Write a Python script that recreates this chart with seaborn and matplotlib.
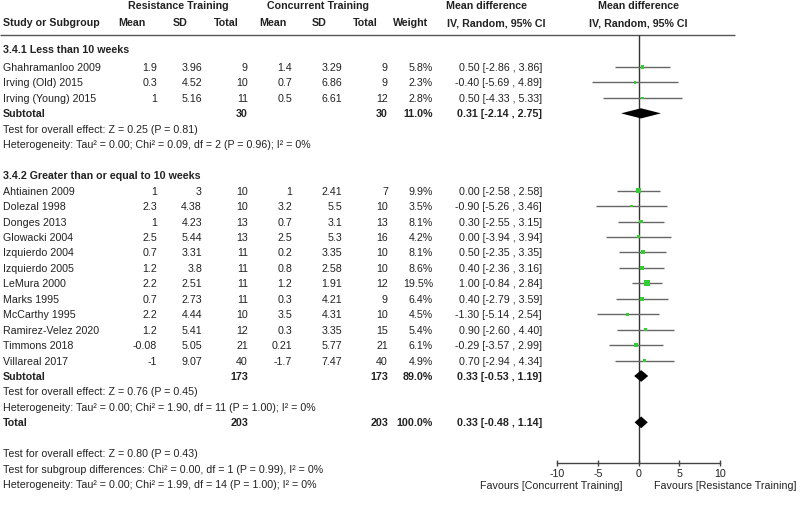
import matplotlib
matplotlib.use("Agg")
import matplotlib.pyplot as plt
import seaborn as sns
import pandas as pd

# study level data
studies = ['Ghahramanloo 2009', 'Irving (Old) 2015', 'Irving (Young) 2015',
           'Ahtiainen 2009', 'Dolezal 1998', 'Donges 2013', 'Glowacki 2004',
           'Izquierdo 2004', 'Izquierdo 2005', 'LeMura 2000', 'Marks 1995',
           'McCarthy 1995', 'Ramirez-Velez 2020', 'Timmons 2018', 'Villareal 2017']
group = [1, 1, 1] + [2] * 12
rt_mean = [1.9, 0.3, 1, 1, 2.3, 1, 2.5, 0.7, 1.2, 2.2, 0.7, 2.2, 1.2, -0.08, -1]
rt_sd = [3.96, 4.52, 5.16, 3, 4.38, 4.23, 5.44, 3.31, 3.8, 2.51, 2.73, 4.44, 5.41, 5.05, 9.07]
rt_n = [9, 10, 11, 10, 10, 13, 13, 11, 11, 11, 11, 10, 12, 21, 40]
ct_mean = [1.4, 0.7, 0.5, 1, 3.2, 0.7, 2.5, 0.2, 0.8, 1.2, 0.3, 3.5, 0.3, 0.21, -1.7]
ct_sd = [3.29, 6.86, 6.61, 2.41, 5.5, 3.1, 5.3, 3.35, 2.58, 1.91, 4.21, 4.31, 3.35, 5.77, 7.47]
ct_n = [9, 9, 12, 7, 10, 13, 16, 10, 10, 12, 9, 10, 15, 21, 40]
weight = [5.8, 2.3, 2.8, 9.9, 3.5, 8.1, 4.2, 8.1, 8.6, 19.5, 6.4, 4.5, 5.4, 6.1, 4.9]
md = [0.50, -0.40, 0.50, 0.00, -0.90, 0.30, 0.00, 0.50, 0.40, 1.00, 0.40, -1.30, 0.90, -0.29, 0.70]
ci_lo = [-2.86, -5.69, -4.33, -2.58, -5.26, -2.55, -3.94, -2.35, -2.36, -0.84, -2.79, -5.14, -2.60, -3.57, -2.94]
ci_hi = [3.86, 4.89, 5.33, 2.58, 3.46, 3.15, 3.94, 3.35, 3.16, 2.84, 3.59, 2.54, 4.40, 2.99, 4.34]

# pooled estimates (subtotal 1, subtotal 2, total)
pooled_label = ['Subtotal', 'Subtotal', 'Total']
pooled_n_rt = [30, 173, 203]
pooled_n_ct = [30, 173, 203]
pooled_weight = [11.0, 89.0, 100.0]
pooled_md = [0.31, 0.33, 0.33]
pooled_lo = [-2.14, -0.53, -0.48]
pooled_hi = [2.75, 1.19, 1.14]

group_titles = ['3.4.1 Less than 10 weeks', '3.4.2 Greater than or equal to 10 weeks']
group_stats = [
    ['Test for overall effect: Z = 0.25 (P = 0.81)',
     'Heterogeneity: Tau² = 0.00; Chi² = 0.09, df = 2 (P = 0.96); I² = 0%'],
    ['Test for overall effect: Z = 0.76 (P = 0.45)',
     'Heterogeneity: Tau² = 0.00; Chi² = 1.90, df = 11 (P = 1.00); I² = 0%'],
]
overall_stats = ['Test for overall effect: Z = 0.80 (P = 0.43)',
                 'Test for subgroup differences: Chi² = 0.00, df = 1 (P = 0.99), I² = 0%',
                 'Heterogeneity: Tau² = 0.00; Chi² = 1.99, df = 14 (P = 1.00); I² = 0%']
x_ticks = [-10, -5, 0, 5, 10]

sns.set_theme(style='white')
plt.rcParams['font.family'] = ['Liberation Sans', 'DejaVu Sans']
plt.rcParams['axes.unicode_minus'] = False
FS = 7.7
GREY = '#555555'

# row layout: one row = 15.45 px, row 0 = first study at y=68 px
ROW_PX = 15.45
TOP = -68 / ROW_PX
BOTTOM = (510 - 68) / ROW_PX

study_rows = []
title_rows = []
pooled_rows = []
stat_rows = []
r = 0
for g in (1, 2):
    title_rows.append(r - 1.15 if g == 1 else r)
    if g == 2:
        r += 1
    for i, gg in enumerate(group):
        if gg == g:
            study_rows.append(r)
            r += 1
    pooled_rows.append(r)
    stat_rows.append([r + 1, r + 2])
    r += 4
pooled_rows.append(r - 1)
overall_rows = [r + 1, r + 2, r + 3]
header_line = (36 - 68) / ROW_PX
axis_row = (464 - 68) / ROW_PX

fig = plt.figure(figsize=(8, 5.1), dpi=100)
tx = fig.add_axes([0, 0, 1, 1])
tx.set_xlim(0, 800)
tx.set_ylim(BOTTOM, TOP)
tx.axis('off')

ax = fig.add_axes([557 / 800, 0, (720 - 557) / 800, 1])
ax.set_xlim(-10, 10)
ax.set_ylim(BOTTOM, TOP)
ax.patch.set_visible(False)


def put(x, y, s, ha='right', bold=False):
    tx.text(x, y, s, ha=ha, va='center', fontsize=FS,
            fontweight='bold' if bold else 'normal', color='#222222')


# header
h1 = (6 - 68) / ROW_PX
h2 = (23 - 68) / ROW_PX
put(178, h1, 'Resistance Training', ha='center', bold=True)
put(318, h1, 'Concurrent Training', ha='center', bold=True)
put(487, h1, 'Mean difference', ha='center', bold=True)
put(638, h1, 'Mean difference', ha='center', bold=True)
put(3, h2, 'Study or Subgroup', ha='left', bold=True)
for xc, lab in [(132, 'Mean'), (180, 'SD'), (226, 'Total'),
                (273, 'Mean'), (319, 'SD'), (365, 'Total'), (411, 'Weight')]:
    put(xc, h2, lab, ha='center', bold=True)
put(496, h2, 'IV, Random, 95% CI', ha='center', bold=True)
put(638, h2, 'IV, Random, 95% CI', ha='center', bold=True)
tx.hlines(header_line, 0, 735, color=GREY, lw=1)

# study rows
cols = [157, 202, 248, 292, 342, 388]
for i, y in enumerate(study_rows):
    put(3, y, studies[i], ha='left')
    vals = [rt_mean[i], rt_sd[i], rt_n[i], ct_mean[i], ct_sd[i], ct_n[i]]
    for xc, v in zip(cols, vals):
        put(xc, y, format(v, 'g'))
    put(433, y, f'{weight[i]:.1f}%')
    put(542, y, f'{md[i]:.2f} [{ci_lo[i]:.2f} , {ci_hi[i]:.2f}]')

for k, y in enumerate(title_rows):
    put(3, y, group_titles[k], ha='left', bold=True)

for k, y in enumerate(pooled_rows):
    put(3, y, pooled_label[k], ha='left', bold=True)
    put(248, y, str(pooled_n_rt[k]), bold=True)
    put(388, y, str(pooled_n_ct[k]), bold=True)
    put(433, y, f'{pooled_weight[k]:.1f}%', bold=True)
    put(542, y, f'{pooled_md[k]:.2f} [{pooled_lo[k]:.2f} , {pooled_hi[k]:.2f}]', bold=True)

for k, rows in enumerate(stat_rows):
    for y, s in zip(rows, group_stats[k]):
        put(3, y, s, ha='left')
for y, s in zip(overall_rows, overall_stats):
    put(3, y, s, ha='left')

# forest panel
ax.vlines(0, header_line, axis_row, color='#333333', lw=1, zorder=1)
ax.hlines(study_rows, ci_lo, ci_hi, color='#666666', lw=1, zorder=2)
df = pd.DataFrame({'md': md, 'row': study_rows, 'weight': weight})
sns.scatterplot(data=df, x='md', y='row', size='weight', sizes=(3, 18),
                size_norm=(2.3, 19.5), marker='s', color='#33cc33',
                linewidth=0, legend=False, ax=ax, zorder=3)
half_h = [0.33, 0.38, 0.38]
for k, y in enumerate(pooled_rows):
    ax.fill([pooled_lo[k], pooled_md[k], pooled_hi[k], pooled_md[k]],
            [y, y - half_h[k], y, y + half_h[k]], color='black', lw=0, zorder=4)

for side in ['top', 'right', 'left']:
    ax.spines[side].set_visible(False)
ax.spines['bottom'].set_position(('data', axis_row))
ax.spines['bottom'].set_bounds(-10, 10)
ax.spines['bottom'].set_color('#444444')
ax.spines['bottom'].set_linewidth(1)
ax.set_xticks(x_ticks)
ax.set_xticklabels([str(t) for t in x_ticks])
ax.tick_params(axis='x', direction='inout', length=5, width=1, color='#444444',
               labelsize=FS, pad=1, bottom=True, labelcolor='#222222')
ax.set_yticks([])
ax.set_xlabel('')
ax.set_ylabel('')
ax.grid(False)

fav_y = (486 - 68) / ROW_PX
put(623, fav_y, 'Favours [Concurrent Training]', ha='right')
put(654, fav_y, 'Favours [Resistance Training]', ha='left')

fig.savefig('out.png', dpi=100)
